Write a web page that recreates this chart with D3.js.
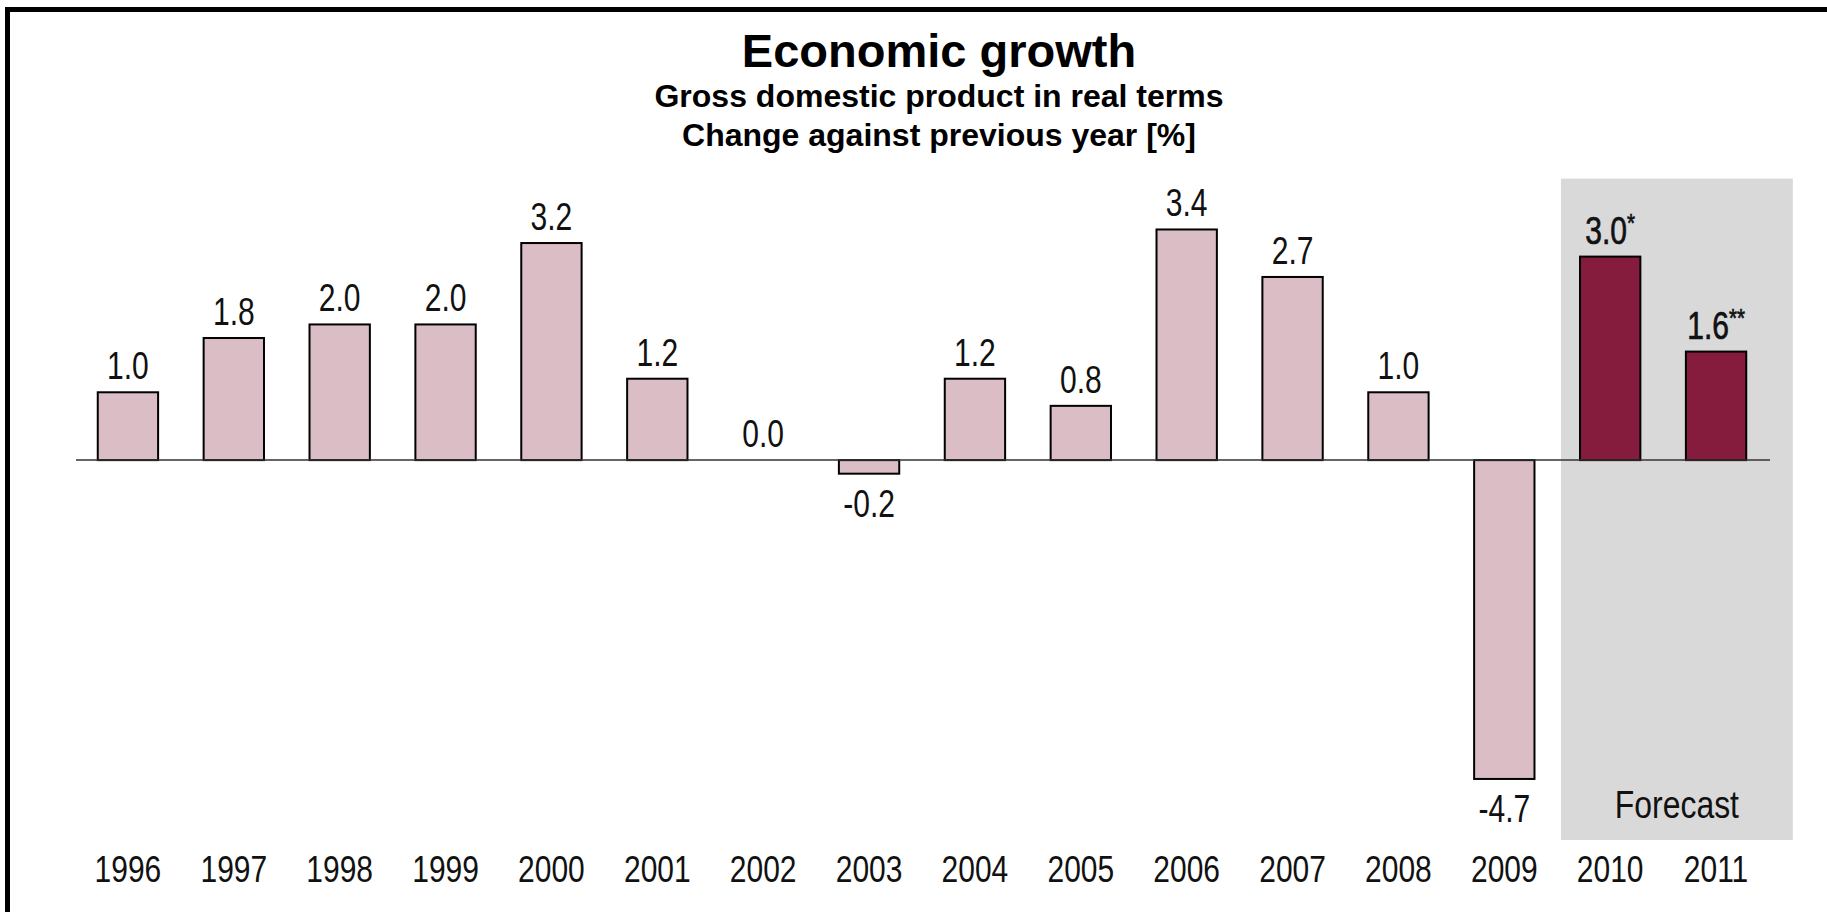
<!DOCTYPE html>
<html>
<head>
<meta charset="utf-8">
<script src="https://cdn.jsdelivr.net/npm/d3@7"></script>
<style>
	body { margin: 0; background: #fff; }
	svg { display: block; }
	text { font-family: "Liberation Sans", Arial, sans-serif; }
</style>
</head>
<body>
<script>
var years = ['1996', '1997', '1998', '1999', '2000', '2001', '2002', '2003',
	'2004', '2005', '2006', '2007', '2008', '2009', '2010', '2011']
var growth = [1.0, 1.8, 2.0, 2.0, 3.2, 1.2, 0.0, -0.2, 1.2, 0.8, 3.4, 2.7, 1.0, -4.7, 3.0, 1.6]
var forecastYears = ['2010', '2011']
var footnotes = { '2010': '*', '2011': '**' }
var titleLines = ['Economic growth', 'Gross domestic product in real terms', 'Change against previous year [%]']
var forecastLabel = 'Forecast'

var area = { width: 1827, height: 912 }
var pink = '#dbbdc5', wine = '#861c3d', shade = '#d9d9d9'

// no narrow face installed, so squeeze the label text horizontally
function squeeze(px, py, sx){ return 'translate(' + px + ',' + py + ') scale(' + sx + ',1)' }

var svg = d3.select('body').append('svg')
	.attr('width', area.width)
	.attr('height', area.height)

var x = d3.scaleBand()
	.domain(years)
	.range([75, 1769])
	.paddingInner(0.43)
	.paddingOuter(0.215)

var y = d3.scaleLinear()
	.domain([-5.6, 4.15])
	.range([840, 178.6])

var data = years.map(function(yr, i){ return { year: yr, value: growth[i] } })
function isForecast(d){ return forecastYears.indexOf(d.year) >= 0 }

// forecast shading
var step = x.step()
var boxX0 = x(forecastYears[0]) - 0.18 * step,
	boxX1 = x(forecastYears[1]) + x.bandwidth() + 0.44 * step
svg.append('rect')
	.attr('x', boxX0)
	.attr('y', y.range()[1])
	.attr('width', boxX1 - boxX0)
	.attr('height', y.range()[0] - y.range()[1])
	.attr('fill', shade)

svg.append('text')
	.attr('transform', squeeze((boxX0 + boxX1) / 2, 818, 0.84))
	.attr('text-anchor', 'middle')
	.attr('font-size', 38)
	.attr('fill', '#111')
	.text(forecastLabel)

// frame
svg.append('path')
	.attr('d', 'M7.5,' + area.height + 'V9.5H' + area.width)
	.attr('fill', 'none')
	.attr('stroke', '#000')
	.attr('stroke-width', 5)

// titles
var titleSizes = [47, 32, 32], titleY = [67, 107, 146]
titleLines.forEach(function(t, i){
	svg.append('text')
		.attr('x', 939)
		.attr('y', titleY[i])
		.attr('text-anchor', 'middle')
		.attr('font-weight', 'bold')
		.attr('font-size', titleSizes[i])
		.text(t)
})

// bars
svg.selectAll('.bar').data(data).enter().append('rect')
	.attr('class', 'bar')
	.attr('x', function(d){ return x(d.year) })
	.attr('y', function(d){ return y(Math.max(0, d.value)) })
	.attr('width', x.bandwidth())
	.attr('height', function(d){ return Math.abs(y(d.value) - y(0)) })
	.attr('fill', function(d){ return isForecast(d) ? wine : pink })
	.attr('stroke', '#000')
	.attr('stroke-width', 2)

// zero line
svg.append('line')
	.attr('x1', x.range()[0] + 1)
	.attr('x2', x.range()[1] + 1)
	.attr('y1', y(0))
	.attr('y2', y(0))
	.attr('stroke', '#333')
	.attr('stroke-width', 1.5)

// value labels
var labels = svg.selectAll('.val').data(data).enter().append('text')
	.attr('class', 'val')
	.attr('transform', function(d){
		var ly = d.value < 0 ? y(d.value) + 43 : y(d.value) - 13
		return squeeze(x(d.year) + x.bandwidth() / 2, ly, 0.79)
	})
	.attr('text-anchor', 'middle')
	.attr('font-size', 38)
	.attr('fill', '#111')
	.attr('stroke', function(d){ return isForecast(d) ? '#111' : 'none' })
	.attr('stroke-width', 0.7)

labels.append('tspan').text(function(d){ return d.value.toFixed(1) })
labels.filter(isForecast).append('tspan')
	.attr('font-size', 26)
	.attr('dy', -12)
	.text(function(d){ return footnotes[d.year] })

// x axis labels
var axis = svg.append('g')
	.attr('transform', 'translate(0,' + 882 + ')')
	.call(d3.axisBottom(x).tickSize(0).tickPadding(0))
axis.select('.domain').remove()
axis.selectAll('text')
	.attr('y', 0)
	.attr('dy', 0)
	.attr('transform', 'scale(0.81,1)')
	.attr('font-size', 37)
	.attr('fill', '#111')
	.style('font-family', '"Liberation Sans", Arial, sans-serif')
</script>
</body>
</html>
